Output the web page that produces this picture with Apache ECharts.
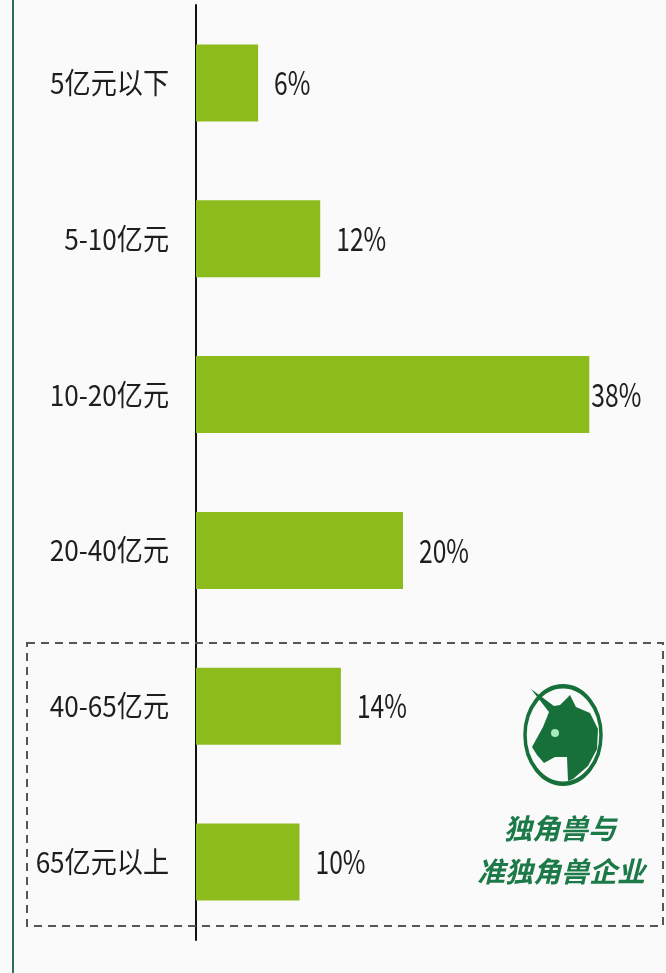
<!DOCTYPE html>
<html><head><meta charset="utf-8">
<script src="https://cdn.jsdelivr.net/npm/echarts@6/dist/echarts.min.js"></script>
<style>html,body{margin:0;padding:0;background:#fafafa;}#c{width:666px;height:973px;}</style>
</head><body><div id="c"></div>
<script>
const categories = ['5亿元以下', '5-10亿元', '10-20亿元', '20-40亿元', '40-65亿元', '65亿元以上'];
const shares = [6, 12, 38, 20, 14, 10];
const boxTitle = ['独角兽与', '准独角兽企业'];

const chart = echarts.init(document.getElementById('c'), null, {renderer: 'canvas'});
const cjk = '"Noto Sans CJK SC", "Noto Sans", sans-serif';
const cx = 563, cy = 735;
const head = [[-32,-46],[-9,-29],[-3,-30],[7,-40],[13,-28],[27,-22],[35,-6],[34,14],[25,31],[10,44],[5,46],[4,22],[-8,22],[-19,28],[-26,20],[-31,12],[-20,-8],[-14,-23]].map(p => [cx + p[0], cy + p[1]]);

function renderLabels(params, api) {
  const v = api.value(0), i = api.value(1);
  const end = api.coord([v, i]);
  const start = api.coord([0, i]);
  const gap = v === 38 ? 2 : 16;
  return {
    type: 'group',
    children: [
      {type: 'text', x: start[0] - 27, y: start[1], scaleX: 0.9,
       style: {text: categories[params.dataIndex], fill: '#1e1e1e', font: '29px ' + cjk, align: 'right', verticalAlign: 'middle'}},
      {type: 'text', x: end[0] + gap, y: end[1], scaleX: 0.77,
       style: {text: v + '%', fill: '#1e1e1e', font: '32px ' + cjk, align: 'left', verticalAlign: 'middle'}}
    ]
  };
}

chart.setOption({
  backgroundColor: '#fafafa',
  animation: false,
  grid: {left: 196, right: 56, top: 5, bottom: 33, containLabel: false},
  xAxis: {type: 'value', min: 0, max: 40, show: false},
  yAxis: {
    type: 'category', data: categories, inverse: true,
    axisLine: {show: true, lineStyle: {color: '#111', width: 2}},
    axisTick: {show: false},
    axisLabel: {show: false}
  },
  series: [{
    type: 'bar',
    data: shares,
    barWidth: 77,
    itemStyle: {color: '#8cbb1c'},
    label: {show: false}
  }, {
    type: 'custom',
    data: shares.map((v, i) => [v, i]),
    encode: {x: 0, y: 1},
    renderItem: renderLabels,
    silent: true,
    z: 5
  }],
  graphic: [
    {type: 'rect', shape: {x: 12, y: 0, width: 2, height: 973}, style: {fill: '#2f6f55'}, z: 10},
    {type: 'rect', shape: {x: 27, y: 643, width: 636, height: 283},
     style: {fill: 'none', stroke: '#555', lineWidth: 2, lineDash: [8, 6]}, z: 10},
    {type: 'circle', shape: {cx: cx, cy: cy, r: 38}, scaleY: 1.28, originX: cx, originY: cy,
     style: {fill: 'none', stroke: '#17703a', lineWidth: 3.5}, z: 10},
    {type: 'polygon', shape: {points: head}, style: {fill: '#17703a'}, z: 11},
    {type: 'circle', shape: {cx: cx - 8, cy: cy - 2, r: 4}, style: {fill: '#a6eabd'}, z: 12},
    {type: 'text', x: 560, y: 828, z: 10,
     style: {text: boxTitle[0], font: 'italic bold 28px ' + cjk, fill: '#1c7a48', textAlign: 'center', textVerticalAlign: 'middle'}},
    {type: 'text', x: 561, y: 871, z: 10,
     style: {text: boxTitle[1], font: 'italic bold 28px ' + cjk, fill: '#1c7a48', textAlign: 'center', textVerticalAlign: 'middle'}}
  ]
});
</script></body></html>
